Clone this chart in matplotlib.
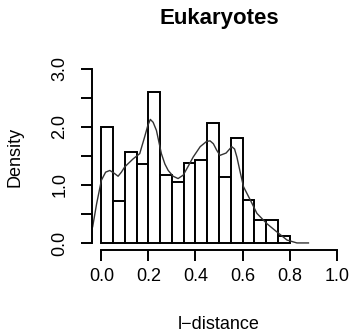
import matplotlib
matplotlib.use("Agg")
import matplotlib.pyplot as plt

# histogram bins (l-distance) and density heights
bin_left = [0.00, 0.05, 0.10, 0.15, 0.20, 0.25, 0.30, 0.35,
            0.40, 0.45, 0.50, 0.55, 0.60, 0.65, 0.70, 0.75]
bin_width = 0.05
bar_height = [2.00, 0.72, 1.57, 1.36, 2.61, 1.18, 1.05, 1.37,
              1.43, 2.07, 1.14, 1.81, 0.74, 0.40, 0.39, 0.12]

# kernel density curve
kde_x = [-0.037, -0.02, 0.0, 0.018, 0.036, 0.055, 0.071, 0.085, 0.099, 0.117,
         0.135, 0.163, 0.184, 0.197, 0.208, 0.22, 0.234, 0.255, 0.27, 0.284,
         0.305, 0.326, 0.348, 0.37, 0.39, 0.42, 0.447, 0.462, 0.476, 0.49,
         0.504, 0.53, 0.554, 0.566, 0.576, 0.59, 0.604, 0.633, 0.661, 0.704,
         0.746, 0.789, 0.831, 0.88]
kde_y = [0.28, 0.68, 1.08, 1.22, 1.25, 1.2, 1.15, 1.22, 1.31, 1.38,
         1.45, 1.54, 1.83, 2.02, 2.13, 2.08, 1.94, 1.54, 1.36, 1.25,
         1.15, 1.11, 1.17, 1.33, 1.48, 1.66, 1.75, 1.76, 1.71, 1.6,
         1.51, 1.55, 1.66, 1.62, 1.48, 1.22, 0.97, 0.74, 0.51, 0.33,
         0.19, 0.05, 0.0, 0.0]

x_ticks = [0.0, 0.2, 0.4, 0.6, 0.8, 1.0]
y_ticks = [0.0, 0.5, 1.0, 1.5, 2.0, 2.5, 3.0]
y_labels = ["0.0", "", "1.0", "", "2.0", "", "3.0"]

plt.rcParams['font.family'] = ['Liberation Sans', 'DejaVu Sans']

fig = plt.figure(figsize=(3.51, 3.35), dpi=100)
ax = fig.add_axes([0.262, 0.254, 0.724, 0.561])

ax.bar(bin_left, bar_height, width=bin_width, align='edge',
       facecolor='white', edgecolor='black', linewidth=1.4)
ax.plot(kde_x, kde_y, color='#333333', linewidth=1.0)

ax.set_xlim(-0.04, 1.04)
ax.set_ylim(-0.12, 3.12)

for s in ['top', 'right']:
    ax.spines[s].set_visible(False)
ax.spines['left'].set_bounds(0, 3)
ax.spines['bottom'].set_bounds(0, 1)
ax.spines['left'].set_linewidth(1.4)
ax.spines['bottom'].set_linewidth(1.4)

ax.set_xticks(x_ticks)
ax.set_xticklabels(["%.1f" % v for v in x_ticks])
ax.set_yticks(y_ticks)
ax.set_yticklabels(y_labels, rotation=90, va='center')
ax.tick_params(axis='x', length=8, width=1.4, labelsize=13, pad=5)
ax.tick_params(axis='y', length=8, width=1.4, labelsize=13, pad=9)

fig.text(0.624, 0.946, "Eukaryotes", ha='center', va='center',
         fontsize=16, fontweight='bold')
fig.text(0.624, 0.006, "l\u2212distance", ha='center', va='bottom', fontsize=13)
fig.text(0.043, 0.531, "Density", ha='center', va='center', rotation=90,
         fontsize=13)

fig.savefig("out.png", dpi=100)
